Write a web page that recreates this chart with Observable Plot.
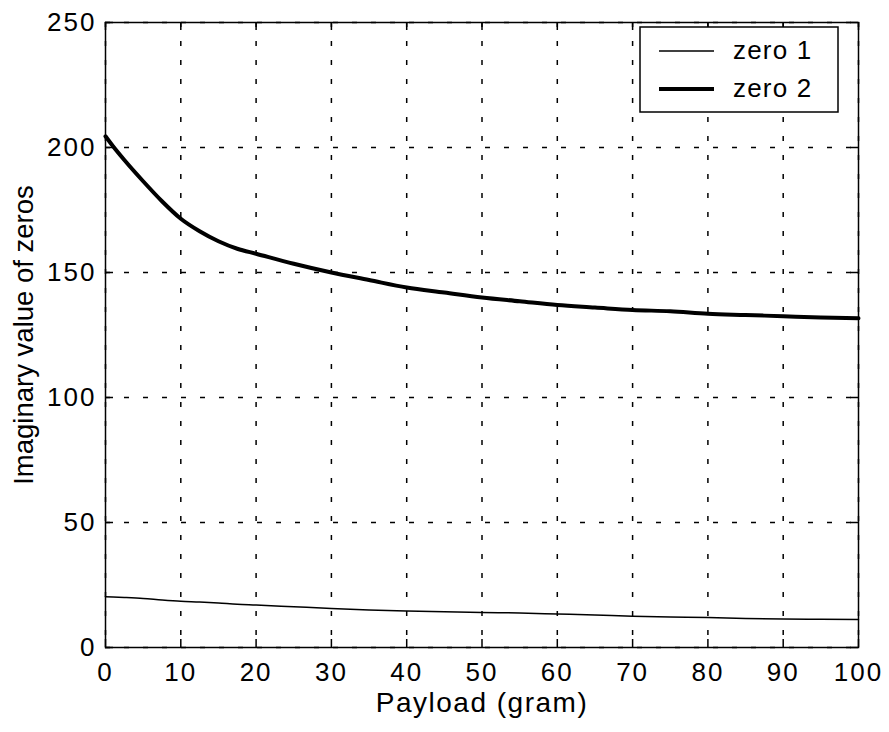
<!DOCTYPE html>
<html><head><meta charset="utf-8">
<script src="https://cdn.jsdelivr.net/npm/d3@7"></script>
<script src="https://cdn.jsdelivr.net/npm/@observablehq/plot@0.6"></script>
<style>body{margin:0;background:#fff;}</style>
</head><body><div id="chart"></div>
<script>
const payload = [0, 1, 2.5, 5, 7.5, 10, 12.5, 15, 17.5, 20, 25, 30, 35, 40, 45, 50, 55, 60, 65, 70, 75, 80, 85, 90, 95, 100];
const zero1 = [20.3, 20.2, 20, 19.6, 19, 18.5, 18.2, 17.8, 17.3, 17, 16.3, 15.6, 15, 14.6, 14.3, 14, 13.8, 13.4, 13, 12.5, 12.2, 12, 11.6, 11.4, 11.3, 11.2];
const zero2 = [204.5, 200.5, 195, 186.5, 178.5, 171.5, 166.5, 162.5, 159.5, 157.5, 153.5, 150, 147, 144, 142, 140, 138.5, 137, 136, 135, 134.5, 133.5, 133, 132.5, 132, 131.7];
const seriesNames = ["zero 1", "zero 2"];
const seriesWidths = [1.5, 4];
const xTicks = [0, 10, 20, 30, 40, 50, 60, 70, 80, 90, 100];
const yTicks = [0, 50, 100, 150, 200, 250];
const xLabel = "Payload (gram)";
const yLabel = "Imaginary value of zeros";

const W = 889, H = 732, mL = 105, mR = 31, mT = 22, mB = 85;
const innerW = W - mL - mR, innerH = H - mT - mB;
const font = "'Liberation Sans', Arial, Helvetica, sans-serif";

const s1 = payload.map((x, i) => ({x, y: zero1[i]}));
const s2 = payload.map((x, i) => ({x, y: zero2[i]}));
const gridStyle = {stroke: "black", strokeOpacity: 1, strokeWidth: 1.5, strokeDasharray: "5,14"};
const tickStyle = {stroke: "black", strokeWidth: 1.5};

const plot = Plot.plot({
  width: W, height: H,
  marginLeft: mL, marginRight: mR, marginTop: mT, marginBottom: mB,
  style: {fontFamily: font, fontSize: "26px", color: "black", background: "white"},
  x: {domain: [0, 100]},
  y: {domain: [0, 250]},
  marks: [
    Plot.gridX(xTicks, gridStyle),
    Plot.gridY(yTicks, gridStyle),
    Plot.tickX(xTicks, {x: d => d, ...tickStyle, insetTop: innerH - 8}),
    Plot.tickX(xTicks, {x: d => d, ...tickStyle, insetBottom: innerH - 8}),
    Plot.tickY(yTicks, {y: d => d, ...tickStyle, insetRight: innerW - 8}),
    Plot.tickY(yTicks, {y: d => d, ...tickStyle, insetLeft: innerW - 8}),
    Plot.line(s1, {x: "x", y: "y", stroke: "black", strokeWidth: seriesWidths[0], curve: "monotone-x"}),
    Plot.line(s2, {x: "x", y: "y", stroke: "black", strokeWidth: seriesWidths[1], curve: "monotone-x"}),
    Plot.frame({stroke: "black", strokeWidth: 1.5}),
    Plot.axisX(xTicks, {tickSize: 0, tickPadding: 15, fontSize: 26, label: xLabel, labelAnchor: "center", labelArrow: "none", labelOffset: 64}),
    Plot.axisY(yTicks, {tickSize: 0, tickPadding: 9, fontSize: 26, label: yLabel, labelAnchor: "center", labelArrow: "none", labelOffset: 92})
  ]
});
document.getElementById("chart").appendChild(plot);

const svg = d3.select(plot);
svg.selectAll("g[aria-label='x-axis tick label'] text, g[aria-label='y-axis tick label'] text").style("letter-spacing", "2px");
svg.selectAll("g[aria-label='x-axis label'] text").attr("font-size", 28).style("letter-spacing", "1.5px");
svg.selectAll("g[aria-label='y-axis label'] text").attr("font-size", 27.5).style("letter-spacing", "0px")
  .attr("dy", null);

// legend box (inside top-right of frame)
const bx = W - mR - 20 - 198, by = mT + 5, bw = 198, bh = 85;
const g = svg.append("g").attr("font-family", font).attr("font-size", 26).attr("text-anchor", "start").style("letter-spacing", "1.2px");
g.append("rect").attr("x", bx).attr("y", by).attr("width", bw).attr("height", bh)
  .attr("fill", "white").attr("stroke", "black").attr("stroke-width", 1.5);
seriesNames.forEach((name, i) => {
  const cy = by + 24 + i * 38;
  g.append("line").attr("x1", bx + 19).attr("x2", bx + 74).attr("y1", cy).attr("y2", cy)
    .attr("stroke", "black").attr("stroke-width", seriesWidths[i]);
  g.append("text").attr("x", bx + 93).attr("y", cy).attr("dy", "0.32em").attr("fill", "black").text(name);
});
</script>
</body></html>
